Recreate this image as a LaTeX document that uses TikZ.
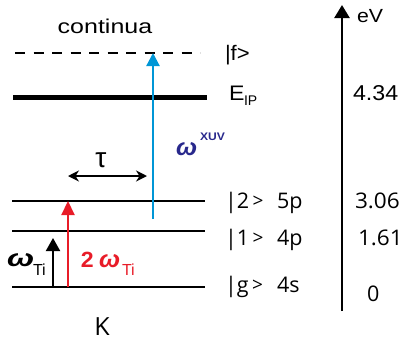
\documentclass[tikz,border=0pt]{standalone}
\usepackage{fontspec}
\setmainfont{Liberation Sans}
\newfontfamily\osans{Open Sans}
\usetikzlibrary{arrows.meta}
\definecolor{redtwo}{RGB}{232,28,40}
\definecolor{bluexuv}{RGB}{0,150,214}
\definecolor{navyxuv}{RGB}{40,40,140}
\newcommand{\sx}[2][1.2]{\scalebox{#1}[1]{#2}}
\newcommand{\gt}{\raisebox{0.5pt}{\fontsize{19}{19}\selectfont >}}
\tikzset{
  lbl/.style={inner sep=0pt, outer sep=0pt},
  level/.style={line width=2pt},
  photon/.style={line width=2.2pt, -{Triangle[width=13pt,length=13pt]}},
}
\begin{document}
\begin{tikzpicture}[x=1pt,y=-1pt]
\useasboundingbox (0,0) rectangle (405,341);
% levels
\draw[line width=2pt, dash pattern=on 10pt off 8.5pt] (15,53) -- (200,53);
\draw[line width=5pt] (13,97) -- (207,97);
\draw[level] (12,201) -- (205,201);
\draw[level] (12,231) -- (205,231);
\draw[level] (12,287) -- (205,287);
% coordinates
\coordinate (xuvS) at (153,219);
\coordinate (xuvE) at (153,53);
\coordinate (redS) at (68,287);
\coordinate (redE) at (68,201);
\coordinate (blkS) at (53,287);
\coordinate (blkE) at (53,238);
\coordinate (tauL) at (68,176);
\coordinate (tauR) at (147,176);
\coordinate (axS) at (342,311);
\coordinate (axE) at (342,5);
% arrows
\draw[photon, bluexuv] (xuvS) -- (xuvE);
\draw[photon, redtwo, -{Triangle[width=13pt,length=14pt]}] (redS) -- (redE);
\draw[line width=2pt, -{Triangle[width=14pt,length=13pt]}] (blkS) -- (blkE);
\draw[line width=1.8pt, {Stealth[width=11pt,length=11pt]}-{Stealth[width=11pt,length=11pt]}] (tauL) -- (tauR);
\draw[line width=2.5pt, -{Triangle[width=15pt,length=13pt]}] (axS) -- (axE);
% texts
\node[lbl, anchor=base] (cont) at (105,33) {\fontsize{20}{20}\selectfont\sx[1.25]{continua}};
\node[lbl, anchor=base west] (f) at (225,60) {\fontsize{21}{21}\selectfont\sx[1.05]{|f>}};
\node[lbl, anchor=base west] (E) at (229,100) {\fontsize{21}{21}\selectfont\sx[1.1]{E}};
\node[lbl, anchor=base west] (IP) at (244,105) {\fontsize{14}{14}\selectfont IP};
\node[lbl, anchor=base west] (v434) at (353,100) {\fontsize{21.5}{21.5}\selectfont\sx[1.08]{4.34}};
\node[lbl, anchor=base west] (eV) at (357,22) {\fontsize{19}{19}\selectfont\sx[1.12]{eV}};
\node[lbl, anchor=base west] (k2) at (225,208) {\osans\fontsize{21.5}{21.5}\selectfont |2\,\gt};
\node[lbl, anchor=base west] (s5p) at (277,208) {\osans\fontsize{21.5}{21.5}\selectfont 5p};
\node[lbl, anchor=base west] (k1) at (225,245) {\osans\fontsize{21.5}{21.5}\selectfont |1\,\gt};
\node[lbl, anchor=base west] (s4p) at (277,245) {\osans\fontsize{21.5}{21.5}\selectfont 4p};
\node[lbl, anchor=base west] (kg) at (225,292) {\osans\fontsize{21.5}{21.5}\selectfont |g\,\gt};
\node[lbl, anchor=base west] (s4s) at (277,292) {\osans\fontsize{21.5}{21.5}\selectfont 4s};
\node[lbl, anchor=base west] (v306) at (355,208) {\osans\fontsize{21.5}{21.5}\selectfont\sx[1.05]{3.06}};
\node[lbl, anchor=base west] (v161) at (358,245) {\osans\fontsize{21.5}{21.5}\selectfont\sx[1.05]{1.61}};
\node[lbl, anchor=base west] (v0) at (367,301) {\osans\fontsize{21.5}{21.5}\selectfont 0};
\node[lbl, anchor=base] (K) at (102,335) {\osans\fontsize{25}{25}\selectfont K};
\node[lbl, anchor=base] (tau) at (101,167) {\fontsize{28}{28}\selectfont τ};
% omega Ti (black)
\node[lbl, anchor=base west] (wTi) at (7,266) {\fontsize{24}{24}\selectfont\bfseries\itshape\sx[1.35]{ω}};
\node[lbl, anchor=base west] (Ti) at (33,275) {\fontsize{16}{16}\selectfont Ti};
% 2 omega Ti (red)
\node[lbl, anchor=base west, text=redtwo] (two) at (81,267) {\fontsize{22}{22}\selectfont\bfseries\sx[1.05]{2}};
\node[lbl, anchor=base west, text=redtwo] (w2Ti) at (99,267) {\fontsize{24}{24}\selectfont\bfseries\itshape\sx[1.05]{ω}};
\node[lbl, anchor=base west, text=redtwo] (Ti2) at (122,275) {\fontsize{16}{16}\selectfont Ti};
% omega xuv
\node[lbl, anchor=base west, text=navyxuv] (wx) at (176,155) {\fontsize{24}{24}\selectfont\bfseries\itshape\sx[1.05]{ω}};
\node[lbl, anchor=base west, text=navyxuv] (xuv) at (200,140) {\fontsize{11}{11}\selectfont\bfseries\sx[1.1]{XUV}};
\end{tikzpicture}
\end{document}
